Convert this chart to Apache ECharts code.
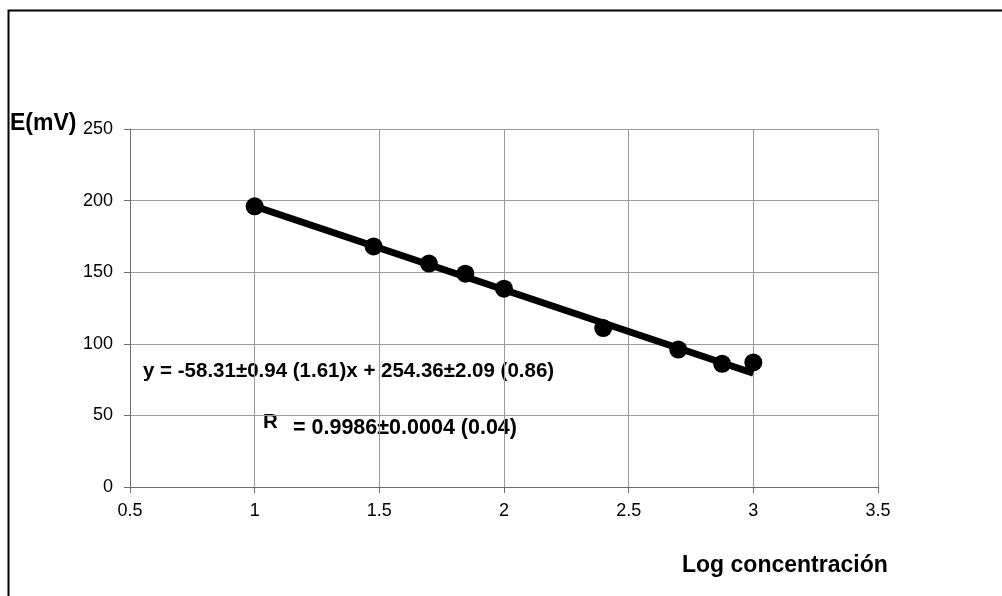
<!DOCTYPE html>
<html><head><meta charset="utf-8">
<script src="https://cdn.jsdelivr.net/npm/echarts@6/dist/echarts.min.js"></script>
<style>html,body{margin:0;padding:0;background:#fff}#c{width:1002px;height:596px}</style>
</head><body><div id="c"></div>
<script>
const logConc = [1, 1.477, 1.699, 1.845, 2, 2.398, 2.699, 2.875, 3];
const emf = [196, 168, 156, 149, 138.5, 111, 96, 86, 87];
const fitX = [1, 3];
const slope = -58.31, intercept = 254.36;
const fitY = fitX.map(x => intercept + slope * x);
const eqText = 'y = -58.31\u00b10.94 (1.61)x + 254.36\u00b12.09 (0.86)';
const rText = '= 0.9986\u00b10.0004 (0.04)';

const chart = echarts.init(document.getElementById('c'));
const F = 'Liberation Sans, Arial, sans-serif';
chart.setOption({
  animation: false,
  grid: {left: 130, right: 124, top: 129, bottom: 109},
  xAxis: {type: 'value', min: 0.5, max: 3.5, interval: 0.5,
    axisLine: {onZero: false, lineStyle: {color: '#6e6e6e', width: 1}},
    axisTick: {show: true, inside: false, length: 6, lineStyle: {color: '#6e6e6e'}},
    axisLabel: {color: '#000', fontFamily: F, fontSize: 18, margin: 15},
    splitLine: {show: true, lineStyle: {color: '#9a9a9a', width: 1}}},
  yAxis: {type: 'value', min: 0, max: 250, interval: 50,
    axisLine: {show: true, lineStyle: {color: '#6e6e6e', width: 1}},
    axisTick: {show: true, inside: false, length: 6, lineStyle: {color: '#6e6e6e'}},
    axisLabel: {color: '#000', fontFamily: F, fontSize: 18, margin: 17},
    splitLine: {show: true, lineStyle: {color: '#9a9a9a', width: 1}}},
  series: [
    {type: 'line', data: fitX.map((x, i) => [x, fitY[i]]), symbol: 'none',
      lineStyle: {color: '#000', width: 7}, z: 2},
    {type: 'scatter', data: logConc.map((x, i) => [x, emf[i]]), symbolSize: 18,
      itemStyle: {color: '#000', opacity: 1}, z: 3}
  ],
  graphic: [
    {type: 'polyline', shape: {points: [[8.5, 596], [8.5, 10.5], [1002, 10.5]]},
      style: {stroke: '#000', lineWidth: 2, fill: null}},
    {type: 'text', left: 10, top: 112, style: {text: 'E(mV)', font: 'bold 23px ' + F, fill: '#000'}},
    {type: 'text', left: 682, top: 554, style: {text: 'Log concentración', font: 'bold 23px ' + F, fill: '#000'}},
    {type: 'text', left: 143, top: 361, style: {text: eqText, font: 'bold 20.5px ' + F, fill: '#000'}},
    {type: 'text', left: 263, top: 412, style: {text: 'R', font: 'bold 20.5px ' + F, fill: '#000'}},
    {type: 'text', left: 293, top: 417, style: {text: rText, font: 'bold 21.5px ' + F, fill: '#000'}}
  ]
});
</script></body></html>
